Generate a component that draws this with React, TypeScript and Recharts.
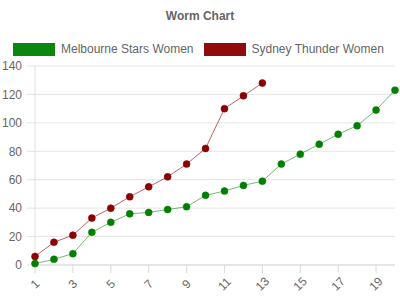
import { LineChart, Line, XAxis, YAxis, CartesianGrid } from 'recharts';

const overs = [1, 2, 3, 4, 5, 6, 7, 8, 9, 10, 11, 12, 13, 14, 15, 16, 17, 18, 19, 20];
const starsRuns = [1, 4, 8, 23, 30, 36, 37, 39, 41, 49, 52, 56, 59, 71, 78, 85, 92, 98, 109, 123];
const thunderRuns = [6, 16, 21, 33, 40, 48, 55, 62, 71, 82, 110, 119, 128];
const xTicks = [1, 3, 5, 7, 9, 11, 13, 15, 17, 19];
const yTicks = [0, 20, 40, 60, 80, 100, 120, 140];

const STARS = '#008000';
const THUNDER = '#8b0000';
const FONT = '"Liberation Sans", Arial, sans-serif';

const data = overs.map((over, i) => ({
  over,
  stars: starsRuns[i],
  thunder: i < thunderRuns.length ? thunderRuns[i] : null,
}));

function XTick({ x, y, payload }: any) {
  return (
    <text
      x={x}
      y={y + 9}
      transform={`rotate(-45, ${x}, ${y + 9})`}
      textAnchor="middle"
      dominantBaseline="central"
      fill="#666"
      fontSize={12}
      fontFamily={FONT}
    >
      {payload.value}
    </text>
  );
}

function LegendItem({ color, label }: { color: string; label: string }) {
  return (
    <div style={{ display: 'flex', alignItems: 'center', marginRight: 10 }}>
      <span
        style={{
          display: 'inline-block',
          width: 40,
          height: 11,
          background: color,
          border: `1px solid ${color}`,
          opacity: 0.95,
          marginRight: 6,
        }}
      />
      <span>{label}</span>
    </div>
  );
}

export default function App() {
  return (
    <div style={{ position: 'absolute', left: 0, top: 0, width: 400, height: 300, background: '#fff', fontFamily: FONT }}>
      <div style={{ position: 'absolute', top: 9, left: 0, width: 400, textAlign: 'center', fontSize: 12, fontWeight: 'bold', color: '#666' }}>
        Worm Chart
      </div>
      <div style={{ position: 'absolute', top: 42, left: 13, display: 'flex', fontSize: 12, color: '#666' }}>
        <LegendItem color={STARS} label="Melbourne Stars Women" />
        <LegendItem color={THUNDER} label="Sydney Thunder Women" />
      </div>
      <LineChart width={400} height={300} data={data} margin={{ top: 66, right: 5, bottom: 0, left: 0 }}>
        <CartesianGrid vertical={false} stroke="#e5e5e5" />
        <XAxis
          dataKey="over"
          type="number"
          domain={[1, 20]}
          ticks={xTicks}
          interval={0}
          height={35}
          tickSize={8}
          stroke="#d9d9d9"
          tick={<XTick />}
        />
        <YAxis
          domain={[0, 140]}
          ticks={yTicks}
          width={35}
          tickSize={8}
          tickMargin={5}
          stroke="#e0e0e0"
          tick={{ fill: '#666', fontSize: 12, fontFamily: FONT }}
        />
        <Line
          dataKey="stars"
          stroke={STARS}
          strokeOpacity={0.55}
          strokeWidth={1}
          dot={{ r: 3.5, fill: STARS, stroke: STARS, strokeOpacity: 0.5, strokeWidth: 1 }}
          isAnimationActive={false}
        />
        <Line
          dataKey="thunder"
          stroke={THUNDER}
          strokeOpacity={0.6}
          strokeWidth={1}
          dot={{ r: 3.5, fill: THUNDER, stroke: THUNDER, strokeOpacity: 0.5, strokeWidth: 1 }}
          isAnimationActive={false}
        />
      </LineChart>
    </div>
  );
}
